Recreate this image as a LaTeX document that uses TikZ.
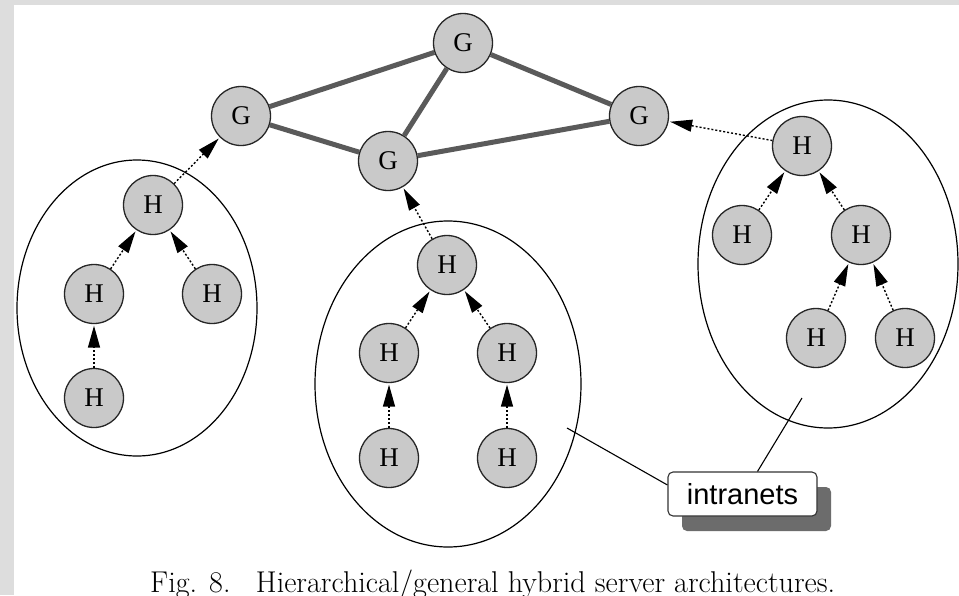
\documentclass[tikz,border=0pt]{standalone}
\usepackage{fontspec}
\newfontfamily\serverfont{Liberation Serif}
\newfontfamily\tagfont{Liberation Sans}
\usetikzlibrary{arrows.meta,shadows}

\definecolor{framegray}{HTML}{DDDDDD}
\definecolor{hostfill}{HTML}{C9C9C9}
\definecolor{linkgray}{HTML}{5A5A5A}
\definecolor{shadowgray}{HTML}{6C6C6C}

\begin{document}
\begin{tikzpicture}[x=1pt,y=-1pt,
  server/.style={circle, draw=black!85, line width=1.3pt, fill=hostfill,
    minimum size=59pt, inner sep=0pt, font=\serverfont\fontsize{27}{27}\selectfont},
  backbone/.style={draw=linkgray, line width=5pt},
  uplink/.style={draw=black, line width=1.4pt, dash pattern=on 2pt off 2pt,
    -{Triangle[length=22pt,width=12pt]}, shorten >=1.5pt},
  netzone/.style={draw=black, line width=1.2pt},
  callout/.style={draw=black, line width=1.1pt},
  tagbox/.style={draw=black!80, line width=1.1pt, fill=white, rounded corners=5pt,
    minimum width=149pt, minimum height=44pt, inner sep=0pt,
    font=\tagfont\fontsize{29}{29}\selectfont,
    drop shadow={shadow xshift=14pt, shadow yshift=-15pt, fill=shadowgray, opacity=1}},
]
% page and frame
\useasboundingbox (0,0) rectangle (959,595);
\fill[framegray] (0,0) rectangle (959,595);
\fill[white] (14,5) rectangle (959,595);

% intranet zones
\draw[netzone] (137,308) ellipse [x radius=120pt, y radius=148pt];
\draw[netzone] (448,384) ellipse [x radius=133pt, y radius=163pt];
\draw[netzone] (828,264) ellipse [x radius=130pt, y radius=164pt];

% general servers
\node[server] (gt) at (463,43)  {G};
\node[server] (gl) at (241,116) {G};
\node[server] (gm) at (388,161) {G};
\node[server] (gr) at (639,116) {G};

% left hierarchy
\node[server] (la) at (153,205) {H};
\node[server] (lb) at (94,294)  {H};
\node[server] (lc) at (212,294) {H};
\node[server] (ld) at (94,398)  {H};

% middle hierarchy
\node[server] (ma) at (447,265) {H};
\node[server] (mb) at (389,353) {H};
\node[server] (mc) at (507,353) {H};
\node[server] (md) at (389,458) {H};
\node[server] (me) at (507,458) {H};

% right hierarchy
\node[server] (ra) at (802,146) {H};
\node[server] (rb) at (742,235) {H};
\node[server] (rc) at (861,235) {H};
\node[server] (rd) at (816,338) {H};
\node[server] (re) at (905,338) {H};

% backbone between general servers
\draw[backbone] (gl) -- (gt);
\draw[backbone] (gl) -- (gm);
\draw[backbone] (gm) -- (gt);
\draw[backbone] (gt) -- (gr);
\draw[backbone] (gm) -- (gr);

% hierarchical uplinks
\draw[uplink] (la) -- (gl);
\draw[uplink] (lb) -- (la);
\draw[uplink] (lc) -- (la);
\draw[uplink] (ld) -- (lb);

\draw[uplink] (ma) -- (gm);
\draw[uplink] (mb) -- (ma);
\draw[uplink] (mc) -- (ma);
\draw[uplink] (md) -- (mb);
\draw[uplink] (me) -- (mc);

\draw[uplink] (ra) -- (gr);
\draw[uplink] (rb) -- (ra);
\draw[uplink] (rc) -- (ra);
\draw[uplink] (rd) -- (rc);
\draw[uplink] (re) -- (rc);

% label for the intranets
\node[tagbox] (tag) at (742.5,494) {intranets};
\coordinate (p1) at (567,428);
\coordinate (p2) at (802,398);
\draw[callout] (p1) -- ([yshift=9pt]tag.west);
\draw[callout] (p2) -- ([xshift=15pt]tag.north);

% caption
\begin{scope}
\clip (0,0) rectangle (959,595);
\node[anchor=base west, inner sep=0pt] (cap) at (150,592)
  {\resizebox{685pt}{!}{\fontsize{26}{26}\selectfont Fig. 8.\hspace{22pt}Hierarchical/general hybrid server architectures.}};
\end{scope}
\end{tikzpicture}
\end{document}
